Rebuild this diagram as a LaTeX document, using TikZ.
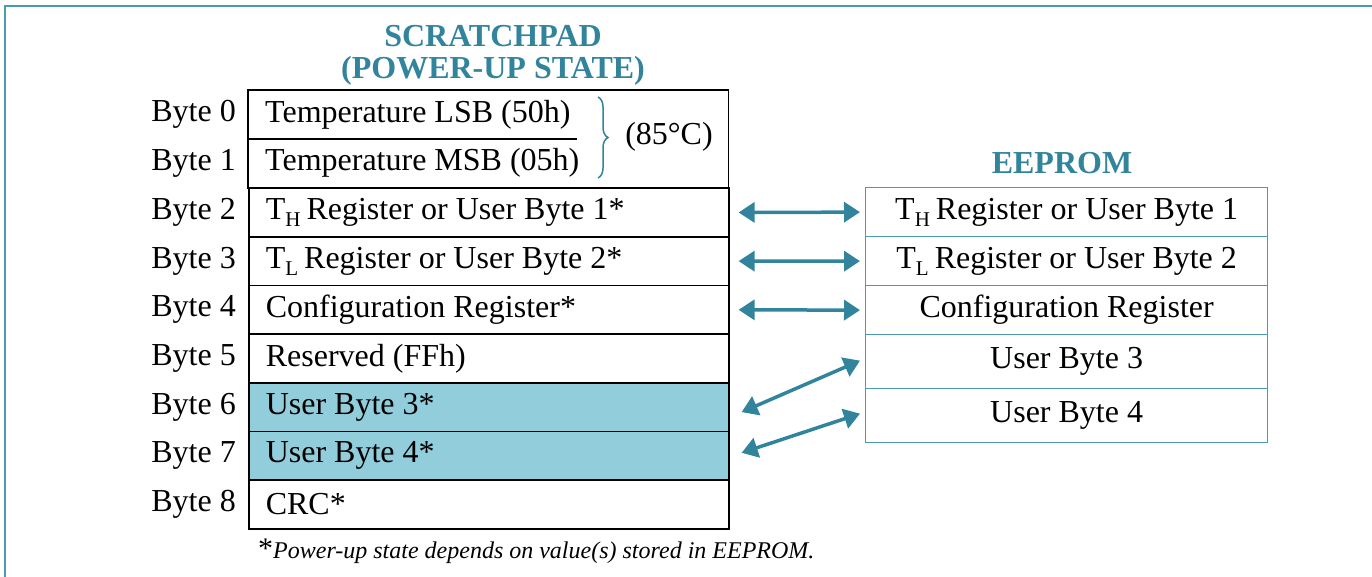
\documentclass[tikz,border=0pt]{standalone}
\usepackage{fontspec}
\setmainfont{Liberation Serif}
\usetikzlibrary{arrows.meta,decorations.pathreplacing}
\definecolor{teal1}{HTML}{31849B}
\definecolor{frame1}{HTML}{4A9BB0}
\definecolor{fill1}{HTML}{92CDDC}
\newcommand{\mysub}[1]{\raisebox{-0.22em}{\fontsize{21}{21}\selectfont #1}\hspace{-2pt}}
\begin{document}
\begin{tikzpicture}[x=1pt,y=-1pt,
  base/.style={font=\fontsize{32}{38}\selectfont},
  cell/.style={base, minimum width=480pt, minimum height=48.67pt, text width=446pt, inner xsep=17pt, inner ysep=0pt, align=flush left, anchor=north west},
  boxed/.style={cell, draw=black, line width=1.6pt},
  ecell/.style={base, draw=frame1, line width=1.3pt, minimum width=402pt, inner sep=0pt, align=center, anchor=north west},
  lbl/.style={base, anchor=east, inner sep=0pt},
  ttl/.style={font=\fontsize{32}{38}\selectfont\bfseries, text=teal1, inner sep=0pt},
  dar/.style={teal1, line width=3.5pt, {Triangle[length=16pt,width=20pt]}-{Triangle[length=16pt,width=20pt]}},
]
\useasboundingbox (0,0) rectangle (1372,577);
\draw[frame1, line width=2.2pt] (5,600) -- (5,6) -- (1400,6);

% titles
\node[ttl] (t1) at (493,36) {SCRATCHPAD};
\node[ttl] (t2) at (493,71) {(POWER-UP STATE)};
\node[ttl] (t3) at (1062,163) {EEPROM};

% scratchpad
\node[cell] (s0) at (248,90) {Temperature LSB (50h)};
\node[cell] (s1) at (248,138.67) {Temperature MSB (05h)};
\draw[line width=1.6pt] (s0.north west) rectangle (s1.south east);
\draw[line width=1.6pt] (s0.south west) -- ([xshift=329pt]s0.south west);
\node[boxed] (s2) at (248,187.33) {T\mysub{H} Register or User Byte 1*};
\node[boxed] (s3) at (248,236) {T\mysub{L} Register or User Byte 2*};
\node[boxed] (s4) at (248,284.67) {Configuration Register*};
\node[boxed] (s5) at (248,333.33) {Reserved (FFh)};
\node[boxed, fill=fill1] (s6) at (248,382) {User Byte 3*};
\node[boxed, fill=fill1] (s7) at (248,430.67) {User Byte 4*};
\node[boxed] (s8) at (248,479.33) {CRC*};

\foreach \i in {0,...,8} {
  \node[lbl] (b\i) at ([xshift=-12pt]s\i.west) {Byte \i};
}

% brace
\coordinate (br1) at (598,97);
\coordinate (br2) at (598,178);
\draw[teal1, line width=1.5pt, decorate, decoration={brace, amplitude=10pt}] (br1) -- (br2);
\node[base, inner sep=0pt] (c85) at (669,137) {(85°C)};

% eeprom
\node[ecell, minimum height=49pt] (e1) at (865,187) {T\mysub{H} Register or User Byte 1};
\node[ecell, minimum height=49pt] (e2) at (865,236) {T\mysub{L} Register or User Byte 2};
\node[ecell, minimum height=49pt] (e3) at (865,285) {Configuration Register};
\node[ecell, minimum height=54pt] (e4) at (865,334) {User Byte 3};
\node[ecell, minimum height=54pt] (e5) at (865,388) {User Byte 4};

% arrows
\draw[dar] ([xshift=9pt]s2.east) -- ([xshift=-5pt]e1.west);
\draw[dar] ([xshift=9pt]s3.east) -- ([xshift=-5pt]e2.west);
\draw[dar] ([xshift=9pt]s4.east) -- ([xshift=-5pt]e3.west);
\draw[dar] ([shift={(12pt,-5pt)}]s6.east) -- ([shift={(-5pt,1pt)}]e4.west);
\draw[dar] ([shift={(12pt,3pt)}]s7.east) -- ([shift={(-5pt,2pt)}]e5.west);

% footnote
\node[anchor=base west, inner sep=0pt] (fn) at (258,558) {{\fontsize{30}{30}\selectfont *}{\fontsize{24}{24}\selectfont\itshape Power-up state depends on value(s) stored in EEPROM.}};
\end{tikzpicture}
\end{document}
